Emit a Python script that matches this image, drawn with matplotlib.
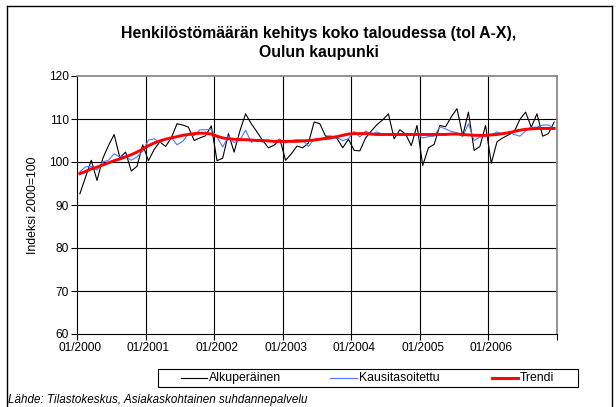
import matplotlib
matplotlib.use("Agg")
import matplotlib.pyplot as plt
from matplotlib.lines import Line2D
from matplotlib.patches import Rectangle
import numpy as np

plt.rcParams['font.family'] = ['Liberation Sans', 'DejaVu Sans']

title = "Henkilöstömäärän kehitys koko taloudessa (tol A-X),\nOulun kaupunki"
ylabel = "Indeksi 2000=100"
source = "Lähde: Tilastokeskus, Asiakaskohtainen suhdannepalvelu"
year_labels = ["01/2000", "01/2001", "01/2002", "01/2003", "01/2004", "01/2005", "01/2006"]
series_names = ["Alkuperäinen", "Kausitasoitettu", "Trendi"]

alkuperainen = [
    92.6, 96.5, 100.4, 95.7, 100.8, 103.8, 106.4, 101.0, 102.3, 97.9, 99.0, 104.0,
    100.3, 102.9, 104.7, 103.6, 105.6, 108.9, 108.6, 108.1, 105.0, 105.6, 106.1, 108.4,
    100.3, 100.9, 106.6, 102.3, 107.2, 111.2, 108.9, 107.0, 105.0, 103.3, 103.9, 105.3,
    100.4, 101.9, 103.7, 103.3, 104.4, 109.3, 108.9, 106.0, 106.0, 105.5, 103.3, 105.3,
    102.7, 102.6, 105.6, 107.2, 108.7, 109.8, 111.2, 105.4, 107.5, 106.5, 103.8, 108.5,
    99.2, 103.3, 104.1, 108.5, 108.2, 110.5, 112.4, 106.1, 111.6, 102.7, 103.6, 108.5,
    99.7, 104.7, 105.6, 106.3, 107.0, 109.9, 111.6, 108.1, 111.2, 106.0, 106.6, 109.3,
]
kausitasoitettu = [
    97.7, 98.9, 99.0, 98.1, 100.0, 100.4, 101.9, 101.2, 101.3, 100.4, 101.2, 102.5,
    105.1, 105.4, 104.5, 105.3, 105.7, 104.0, 104.8, 106.5, 106.1, 107.5, 107.5, 107.6,
    105.8, 103.5, 106.0, 104.5, 105.1, 107.4, 104.6, 105.2, 104.6, 105.1, 104.7, 105.3,
    104.4, 105.0, 105.2, 105.1, 103.6, 105.3, 105.2, 105.2, 105.4, 105.7, 105.0, 105.4,
    107.1, 105.8, 107.2, 106.4, 107.0, 106.4, 106.4, 106.2, 106.4, 106.6, 106.4, 106.4,
    105.6, 105.9, 106.0, 108.2, 107.7, 107.1, 106.8, 105.9, 108.9, 105.0, 105.8, 106.0,
    106.3, 107.0, 106.4, 106.9, 106.4, 106.0, 107.2, 108.1, 108.1, 108.6, 108.6, 107.9,
]
trendi = [
    97.3, 97.8, 98.4, 98.8, 99.3, 99.8, 100.3, 100.7, 101.2, 101.7, 102.3, 103.0,
    103.8, 104.4, 104.9, 105.3, 105.6, 105.9, 106.2, 106.4, 106.6, 106.7, 106.7, 106.5,
    106.0, 105.6, 105.4, 105.3, 105.2, 105.2, 105.1, 105.0, 105.0, 104.9, 104.8, 104.8,
    104.8, 104.8, 104.8, 104.9, 105.0, 105.1, 105.3, 105.5, 105.7, 105.9, 106.2, 106.5,
    106.6, 106.6, 106.6, 106.5, 106.4, 106.4, 106.4, 106.4, 106.4, 106.4, 106.4, 106.4,
    106.4, 106.4, 106.4, 106.4, 106.4, 106.5, 106.5, 106.4, 106.3, 106.2, 106.2, 106.2,
    106.3, 106.4, 106.6, 106.8, 107.1, 107.4, 107.6, 107.7, 107.8, 107.8, 107.8, 107.8,
]

W, H = 616, 407
fig = plt.figure(figsize=(W / 100, H / 100), dpi=100)
fig.patch.set_facecolor('white')

L, R, T, B = 77, 557, 76, 334
ax = fig.add_axes([L / W, 1 - B / H, (R - L) / W, (B - T) / H])

colors = ['black', '#4a78ff', '#ff0000']
widths = [0.8, 0.8, 2.1]
n = len(alkuperainen)
x = np.arange(n)
for i, data in enumerate([alkuperainen, kausitasoitettu, trendi]):
    ax.plot(x, data, color=colors[i], lw=widths[i], label=series_names[i], zorder=3 + i)

ax.set_xlim(-0.5, n - 0.5)
ax.set_ylim(60, 120)
ax.set_yticks(np.arange(60, 121, 10))
ax.tick_params(axis='y', labelsize=8.6, length=4, width=0.8, direction='out', pad=2)

boundaries = np.arange(-0.5, n, 12)
ax.set_xticks(boundaries)
ax.set_xticklabels([''] * len(boundaries))
ax.tick_params(axis='x', which='major', length=4, width=0.8, direction='out')
ax.set_xticks(np.arange(0, n, 12)[:len(year_labels)], minor=True)
ax.set_xticklabels(year_labels, minor=True)
ax.tick_params(axis='x', which='minor', length=0, labelsize=8.6, pad=6)

for v in range(70, 120, 10):
    ax.axhline(v, color='black', lw=0.8, zorder=1)
for b in boundaries[1:-1]:
    ax.axvline(b, color='black', lw=0.8, zorder=1)

ax.spines['top'].set_color('#808080')
ax.spines['right'].set_color('#808080')
ax.spines['top'].set_linewidth(1.2)
ax.spines['right'].set_linewidth(1.2)
ax.spines['left'].set_linewidth(0.8)
ax.spines['bottom'].set_linewidth(0.8)

fig.text(33 / W, 1 - 205 / H, ylabel, rotation=90, ha='center', va='center', fontsize=8.8)

fig.text(319 / W, 1 - 43 / H, title, ha='center', va='center', fontsize=11.4,
         fontweight='bold', linespacing=1.4)

# legend box (drawn manually to match Excel layout)
fig.add_artist(Rectangle((158 / W, 1 - 387 / H), (578 - 158) / W, 18 / H,
                         transform=fig.transFigure, fill=False, edgecolor='black', lw=0.8))
handles_x = [(181, 207), (330, 357), (492, 518)]
for i, (x0, x1) in enumerate(handles_x):
    fig.add_artist(Line2D([x0 / W, x1 / W], [1 - 378 / H] * 2, color=colors[i],
                          lw=widths[i], transform=fig.transFigure))
    fig.text((x1 + 2) / W, 1 - 378 / H, series_names[i], ha='left', va='center', fontsize=8.8)

fig.text(8 / W, 1 - 400 / H, source, ha='left', va='center', fontsize=8.4,
         style='italic')

# outer frame
for xs, ys in [([7, 7], [6, 407]), ([7, 612], [6, 6]), ([612, 612], [6, 407])]:
    fig.add_artist(Line2D([v / W for v in xs], [1 - v / H for v in ys],
                          color='black', lw=1.0, transform=fig.transFigure))

fig.savefig('out.png', dpi=100)
